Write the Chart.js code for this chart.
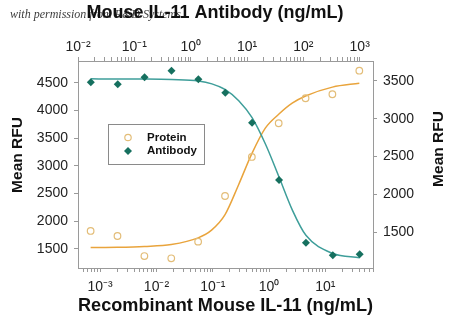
<!DOCTYPE html>
<html><head><meta charset="utf-8">
<script src="https://cdn.jsdelivr.net/npm/chart.js@4.4.0/dist/chart.umd.min.js"></script>
<style>html,body{margin:0;padding:0;background:#fff;}#wrap{width:450px;height:329px;position:relative;}</style>
</head><body><div id="wrap"><canvas id="c" width="450" height="329"></canvas></div>
<script>
// ---- data ----
const proteinConc = [0.000677, 0.00203, 0.0061, 0.0183, 0.0549, 0.165, 0.494, 1.48, 4.44, 13.3, 40];
const proteinRFU  = [1825, 1734, 1373, 1332, 1632, 2456, 3160, 3768, 4219, 4291, 4716];
const antibodyConc = [0.0169, 0.0508, 0.152, 0.457, 1.37, 4.12, 12.3, 37.0, 111, 333, 1000];
const antibodyRFU  = [3483, 3456, 3549, 3636, 3522, 3345, 2949, 2191, 1363, 1196, 1209];
// fitted curves
const proteinFitConc = [0.000677, 0.00203, 0.0061, 0.0183, 0.0549, 0.0951, 0.165, 0.285, 0.494, 0.856, 1.48, 2.57, 4.44, 13.3, 40];
const proteinFitRFU  = [1525, 1530, 1545, 1580, 1700, 1840, 2120, 2650, 3220, 3680, 3930, 4130, 4260, 4420, 4490];
const antibodyFitConc = [0.0169, 0.0508, 0.152, 0.457, 1.37, 2.38, 4.12, 7.13, 12.3, 21.4, 37.0, 64.1, 111, 333, 1000];
const antibodyFitRFU  = [3528, 3527, 3525, 3518, 3500, 3462, 3385, 3240, 3015, 2660, 2230, 1790, 1460, 1220, 1165];
const leftTicks = [1500, 2000, 2500, 3000, 3500, 4000, 4500];
const rightTicks = [1500, 2000, 2500, 3000, 3500];
const seriesNames = ['Protein', 'Antibody'];
const bottomTitle = 'Recombinant Mouse IL-11 (ng/mL)';
const topTitle = 'Mouse IL-11 Antibody (ng/mL)';
const yTitle = 'Mean RFU';
const watermark = 'with permission from R&D Systems';

const FONT = '"Liberation Sans", Arial, sans-serif';
const ORANGE_LINE = '#E9A43C', ORANGE_PT = '#E3BD78', TEAL_LINE = '#3E9E9A', TEAL_PT = '#16705F';
const AXIS = '#9a9a9a';

const sup = {'-':'\u207B','0':'\u2070','1':'\u00B9','2':'\u00B2','3':'\u00B3','4':'\u2074','5':'\u2075'};
function powLabel(v){
  const l = Math.log10(v), r = Math.round(l);
  if (Math.abs(l - r) > 1e-6) return '';
  return '10' + String(r).split('').map(c => sup[c]).join('');
}
function logTicks(min, max){
  const out = [];
  for (let e = Math.floor(Math.log10(min)); e <= Math.ceil(Math.log10(max)); e++){
    for (let k = 1; k <= 9; k++){
      const v = k * Math.pow(10, e);
      if (v >= min * 0.9999 && v <= max * 1.0001) out.push({value: v, major: k === 1});
    }
  }
  return out;
}
function pts(xs, ys){ return xs.map((x, i) => ({x: x, y: ys[i]})); }

const overlay = {
  id: 'overlay',
  afterDraw(chart){
    const ctx = chart.ctx;
    ctx.save();
    ctx.fillStyle = '#111';
    // top title
    ctx.font = 'bold 18px ' + FONT;
    ctx.textAlign = 'center'; ctx.textBaseline = 'middle';
    ctx.fillText(topTitle, 215, 13);
    // y titles (both read bottom-to-top)
    ctx.font = 'bold 15.5px ' + FONT;
    [[18, 155], [439, 149]].forEach(([x, y]) => {
      ctx.save(); ctx.translate(x, y); ctx.rotate(-Math.PI / 2); ctx.fillText(yTitle, 0, 0); ctx.restore();
    });
    // legend box
    const bx = 108.5, by = 124.5, bw = 96, bh = 40;
    ctx.strokeStyle = '#8a8a8a'; ctx.lineWidth = 1;
    ctx.strokeRect(bx, by, bw, bh);
    ctx.font = 'bold 11.5px ' + FONT;
    ctx.textAlign = 'left'; ctx.textBaseline = 'middle';
    ctx.beginPath(); ctx.arc(128, 137.5, 3.2, 0, Math.PI * 2);
    ctx.strokeStyle = ORANGE_PT; ctx.lineWidth = 1.2; ctx.stroke();
    ctx.fillStyle = '#111'; ctx.fillText(seriesNames[0], 147, 137.5);
    ctx.beginPath(); ctx.moveTo(128, 147); ctx.lineTo(132, 151); ctx.lineTo(128, 155); ctx.lineTo(124, 151); ctx.closePath();
    ctx.fillStyle = TEAL_PT; ctx.fill();
    ctx.fillStyle = '#111'; ctx.fillText(seriesNames[1], 147, 151);
    // watermark
    ctx.font = 'italic 12px "Liberation Serif", serif';
    ctx.fillStyle = 'rgba(20,20,20,0.85)';
    ctx.textBaseline = 'alphabetic';
    ctx.fillText(watermark, 10, 18);
    ctx.restore();
  }
};

const tickFont = {family: FONT, size: 14};
const gridOpts = {display: true, drawOnChartArea: false, drawTicks: true, tickLength: 4, color: AXIS};

new Chart(document.getElementById('c'), {
  type: 'scatter',
  data: {
    datasets: [
      {label: seriesNames[0], data: pts(proteinConc, proteinRFU), xAxisID: 'x', yAxisID: 'y',
       pointStyle: 'circle', pointRadius: 3.3, pointBorderWidth: 1.2, pointBorderColor: ORANGE_PT,
       pointBackgroundColor: 'rgba(255,255,255,0)', showLine: false, order: 1},
      {label: seriesNames[1], data: pts(antibodyConc, antibodyRFU), xAxisID: 'x2', yAxisID: 'y2',
       pointStyle: 'rectRot', pointRadius: 4, pointBorderWidth: 0, pointBackgroundColor: TEAL_PT,
       pointBorderColor: TEAL_PT, showLine: false, order: 0},
      {label: 'Protein fit', data: pts(proteinFitConc, proteinFitRFU), xAxisID: 'x', yAxisID: 'y',
       showLine: true, pointRadius: 0, borderColor: ORANGE_LINE, borderWidth: 1.5,
       cubicInterpolationMode: 'monotone', order: 3},
      {label: 'Antibody fit', data: pts(antibodyFitConc, antibodyFitRFU), xAxisID: 'x2', yAxisID: 'y2',
       showLine: true, pointRadius: 0, borderColor: TEAL_LINE, borderWidth: 1.5,
       cubicInterpolationMode: 'monotone', order: 2}
    ]
  },
  options: {
    responsive: false, animation: false, devicePixelRatio: 1,
    layout: {padding: 0},
    plugins: {legend: {display: false}, tooltip: {enabled: false}},
    scales: {
      x: {type: 'logarithmic', position: 'bottom', min: 4.04e-4, max: 70,
          afterBuildTicks: s => { s.ticks = logTicks(s.min, s.max); },
          afterFit: s => { s.height = 61; },
          ticks: {callback: v => powLabel(v), autoSkip: false, maxRotation: 0, minRotation: 0, font: tickFont, color: '#222', padding: 7},
          grid: gridOpts, border: {display: true, color: AXIS, width: 1},
          title: {display: true, text: bottomTitle, color: '#111', font: {family: FONT, size: 19, weight: 'bold'}, padding: {top: 0, bottom: 11.6}}},
      x2: {type: 'logarithmic', position: 'top', min: 0.01, max: 1722,
          afterBuildTicks: s => { s.ticks = logTicks(s.min, s.max); },
          afterFit: s => { s.height = 61; },
          ticks: {callback: v => powLabel(v), autoSkip: false, maxRotation: 0, minRotation: 0, font: tickFont, color: '#222', padding: 1},
          grid: gridOpts, border: {display: true, color: AXIS, width: 1},
          title: {display: false}},
      y: {type: 'linear', position: 'left', min: 1157, max: 4891,
          afterBuildTicks: s => { s.ticks = leftTicks.map(v => ({value: v})); },
          afterFit: s => { s.width = 78; },
          ticks: {font: tickFont, color: '#222', padding: 6, callback: v => String(v)},
          grid: gridOpts, border: {display: true, color: AXIS, width: 1}},
      y2: {type: 'linear', position: 'right', min: 1028, max: 3764,
          afterBuildTicks: s => { s.ticks = rightTicks.map(v => ({value: v})); },
          afterFit: s => { s.width = 77; },
          ticks: {font: tickFont, color: '#222', padding: 6, callback: v => String(v)},
          grid: gridOpts, border: {display: true, color: AXIS, width: 1}}
    }
  },
  plugins: [overlay]
});
</script></body></html>
